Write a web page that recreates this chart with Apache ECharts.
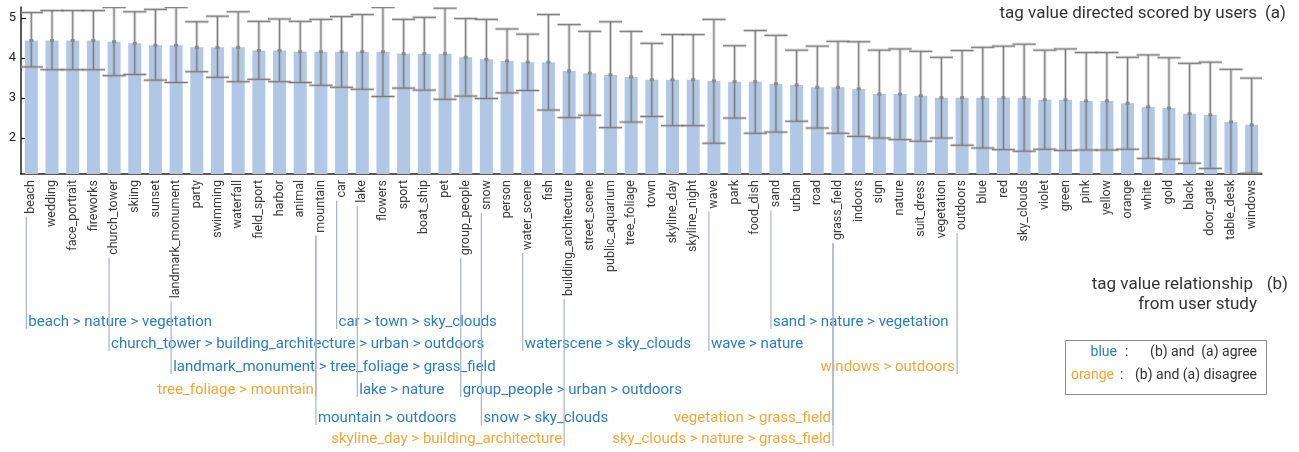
<!DOCTYPE html>
<html>
<head>
<meta charset="utf-8">
<script src="https://cdn.jsdelivr.net/npm/echarts@6/dist/echarts.min.js"></script>
<style>
  html, body { margin: 0; padding: 0; background: #ffffff; }
  #chart { width: 1299px; height: 452px; }
</style>
</head>
<body>
<div id="chart"></div>
<script>
// Image tags, ordered by mean score given by users
const tags = [
  'beach', 'wedding', 'face_portrait', 'fireworks', 'church_tower', 'skiing', 'sunset',
  'landmark_monument', 'party', 'swimming', 'waterfall', 'field_sport', 'harbor', 'animal',
  'mountain', 'car', 'lake', 'flowers', 'sport', 'boat_ship', 'pet', 'group_people', 'snow',
  'person', 'water_scene', 'fish', 'building_architecture', 'street_scene', 'public_aquarium',
  'tree_foliage', 'town', 'skyline_day', 'skyline_night', 'wave', 'park', 'food_dish', 'sand',
  'urban', 'road', 'grass_field', 'indoors', 'sign', 'nature', 'suit_dress', 'vegetation',
  'outdoors', 'blue', 'red', 'sky_clouds', 'violet', 'green', 'pink', 'yellow', 'orange',
  'white', 'gold', 'black', 'door_gate', 'table_desk', 'windows'
];

// Mean score per tag
const meanScore = [
  4.44, 4.44, 4.44, 4.44, 4.41, 4.37, 4.32, 4.32, 4.27, 4.27, 4.27, 4.19, 4.19, 4.16,
  4.16, 4.16, 4.16, 4.16, 4.11, 4.11, 4.11, 4.02, 3.97, 3.93, 3.90, 3.90, 3.68, 3.62, 3.58,
  3.53, 3.46, 3.46, 3.46, 3.43, 3.41, 3.41, 3.36, 3.33, 3.27, 3.27, 3.23, 3.10, 3.10, 3.06,
  3.01, 3.01, 3.01, 3.01, 3.01, 2.96, 2.96, 2.93, 2.93, 2.87, 2.78, 2.75, 2.61, 2.58, 2.40, 2.33
];

// Upper end of each error bar
const upperScore = [
  5.14, 5.19, 5.19, 5.19, 5.27, 5.16, 5.22, 5.27, 4.91, 5.05, 5.16, 4.92, 4.98, 4.92,
  4.97, 5.04, 5.09, 5.27, 4.97, 5.02, 5.25, 4.99, 4.97, 4.73, 4.60, 5.09, 4.84, 4.67, 4.91,
  4.67, 4.37, 4.59, 4.59, 4.97, 4.31, 4.69, 4.57, 4.20, 4.30, 4.42, 4.41, 4.20, 4.23, 4.17,
  4.02, 4.19, 4.27, 4.30, 4.35, 4.20, 4.23, 4.14, 4.14, 4.02, 4.08, 4.01, 3.87, 3.90, 3.72, 3.50
];

// Lower end of each error bar
const lowerScore = [
  3.78, 3.71, 3.71, 3.71, 3.56, 3.59, 3.45, 3.39, 3.66, 3.52, 3.41, 3.47, 3.41, 3.39,
  3.32, 3.27, 3.22, 3.04, 3.25, 3.20, 2.97, 3.05, 2.99, 3.13, 3.19, 2.70, 2.51, 2.57, 2.26,
  2.40, 2.54, 2.31, 2.31, 1.87, 2.50, 2.12, 2.15, 2.42, 2.25, 2.12, 2.04, 2.00, 1.96, 1.92,
  2.00, 1.82, 1.75, 1.71, 1.67, 1.72, 1.69, 1.70, 1.70, 1.72, 1.49, 1.47, 1.37, 1.24, 1.05, 1.12
];

// Score axis tick labels
const yTickValues = [2, 3, 4, 5];

// Tag value relationships from the user study
const relationText = [
  'beach > nature > vegetation',
  'car > town > sky_clouds',
  'sand > nature > vegetation',
  'church_tower > building_architecture > urban > outdoors',
  'waterscene > sky_clouds',
  'wave > nature',
  'landmark_monument > tree_foliage > grass_field',
  'windows > outdoors',
  'tree_foliage > mountain',
  'lake > nature',
  'group_people > urban > outdoors',
  'mountain > outdoors',
  'snow > sky_clouds',
  'vegetation > grass_field',
  'skyline_day > building_architecture',
  'sky_clouds > nature > grass_field'
];
// Tag each relationship hangs from
const relationTag = [
  'beach', 'car', 'sand', 'church_tower', 'water_scene', 'wave', 'landmark_monument',
  'outdoors', 'mountain', 'lake', 'group_people', 'mountain', 'snow', 'grass_field',
  'building_architecture', 'grass_field'
];
// Whether the relationship agrees with the scores
const relationAgree = [
  true, true, true, true, true, true, true, false, false, true, true, true, true, false, false, false
];

// ---- layout ----
const FONT = 'Roboto, "Noto Sans", sans-serif';
const BLUE = '#2a7cc6';
const ORANGE = '#f5a637';
const LEADER = '#aab0cd';
const rowY = [322, 344, 367, 390, 418, 439];
const relationRow = [0, 0, 0, 1, 1, 1, 2, 2, 3, 3, 3, 4, 4, 4, 5, 5];
const relationSide = [
  'left', 'left', 'left', 'left', 'left', 'left', 'left', 'right', 'right', 'left', 'left',
  'left', 'left', 'right', 'right', 'right'
];
const LABEL_FONT_SIZE = 12.5;
const LABEL_MARGIN = 6;
const NOTE_FONT = '15px ' + FONT;
const TITLE_FONT = '17px ' + FONT;
const KEY_FONT = '14px ' + FONT;

const measureCtx = document.createElement('canvas').getContext('2d');
measureCtx.font = LABEL_FONT_SIZE + 'px ' + FONT;
function labelWidth(s) { return measureCtx.measureText(s).width; }

const Y_MIN = 1.1, Y_MAX = 5.28;

const errorData = tags.map((t, i) => [i, lowerScore[i], upperScore[i], meanScore[i]]);
const relationData = relationText.map((t, i) => [tags.indexOf(relationTag[i]), i]);

const chart = echarts.init(document.getElementById('chart'), null, { renderer: 'canvas' });

chart.setOption({
  animation: false,
  backgroundColor: '#ffffff',
  grid: { left: 21, right: 37, top: 7, bottom: 278, containLabel: false, outerBoundsMode: 'none' },
  xAxis: {
    type: 'category',
    data: tags,
    boundaryGap: true,
    axisLine: { show: true, lineStyle: { color: '#222', width: 1.5 } },
    axisTick: { show: false },
    axisLabel: {
      interval: 0, rotate: 90, margin: LABEL_MARGIN,
      color: '#3c3c3c', fontSize: LABEL_FONT_SIZE, fontFamily: FONT
    },
    splitLine: { show: false }
  },
  yAxis: {
    type: 'value',
    min: Y_MIN, max: Y_MAX,
    axisLine: { show: true, lineStyle: { color: '#222', width: 1.5 } },
    axisTick: { show: true, inside: true, length: 5, customValues: yTickValues, lineStyle: { color: '#222', width: 1.2 } },
    axisLabel: { customValues: yTickValues, color: '#222', fontSize: 13, fontFamily: FONT, margin: 5 },
    splitLine: { show: false }
  },
  series: [
    {
      type: 'bar',
      data: meanScore,
      barWidth: 13,
      itemStyle: { color: '#b1c7e6' },
      z: 2
    },
    {
      // error bars
      type: 'custom',
      data: errorData,
      clip: true,
      z: 3,
      encode: { x: 0, y: [1, 2] },
      renderItem: function (params, api) {
        const i = api.value(0);
        const lo = api.coord([i, api.value(1)]);
        const hi = api.coord([i, api.value(2)]);
        const mid = api.coord([i, api.value(3)]);
        const half = api.size([1, 0])[0] * 0.56;
        const halo = { stroke: 'rgba(150,150,150,0.45)', lineWidth: 3 };
        const core = { stroke: '#7a7a7a', lineWidth: 1 };
        const seg = (x1, y1, x2, y2, st) => ({ type: 'line', shape: { x1, y1, x2, y2 }, style: st });
        return {
          type: 'group',
          children: [
            seg(hi[0], hi[1], lo[0], lo[1], halo),
            seg(hi[0] - half, hi[1], hi[0] + half, hi[1], halo),
            seg(lo[0] - half, lo[1], lo[0] + half, lo[1], halo),
            seg(hi[0], hi[1], lo[0], lo[1], core),
            seg(hi[0] - half, hi[1], hi[0] + half, hi[1], core),
            seg(lo[0] - half, lo[1], lo[0] + half, lo[1], core),
            { type: 'rect', shape: { x: mid[0] - 2, y: mid[1] - 1.5, width: 4, height: 3 }, style: { fill: '#8a8a8a' } }
          ]
        };
      }
    },
    {
      // relationship annotations hanging from the tag labels
      type: 'custom',
      data: relationData,
      clip: false,
      silent: true,
      z: 4,
      renderItem: function (params, api) {
        const idx = api.value(0);
        const k = api.value(1);
        const base = api.coord([idx, Y_MIN]);
        const x = base[0] - 5;
        const y0 = base[1] + LABEL_MARGIN + labelWidth(tags[idx]) + 3;
        const ty = rowY[relationRow[k]];
        const left = relationSide[k] === 'left';
        return {
          type: 'group',
          children: [
            { type: 'line', shape: { x1: x, y1: y0, x2: x, y2: ty + 7 }, style: { stroke: LEADER, lineWidth: 1.2 } },
            {
              type: 'text',
              style: {
                text: relationText[k],
                x: left ? x + 2 : x - 2,
                y: ty,
                fill: relationAgree[k] ? BLUE : ORANGE,
                font: NOTE_FONT,
                align: left ? 'left' : 'right',
                verticalAlign: 'middle',
                textAlign: left ? 'left' : 'right',
                textVerticalAlign: 'middle'
              }
            }
          ]
        };
      }
    }
  ],
  graphic: [
    { type: 'text', right: 13, top: 5, style: { text: '(a)', fill: '#333', font: TITLE_FONT } },
    { type: 'text', right: 42, top: 5, style: { text: 'tag value directed scored by users', fill: '#333', font: TITLE_FONT } },
    { type: 'text', right: 11, top: 276, style: { text: '(b)', fill: '#333', font: TITLE_FONT } },
    { type: 'text', right: 46, top: 276, style: { text: 'tag value relationship', fill: '#333', font: TITLE_FONT } },
    { type: 'text', right: 42, top: 296, style: { text: 'from user study', fill: '#333', font: TITLE_FONT } },
    {
      type: 'rect', left: 1063, top: 338,
      shape: { width: 201, height: 54 },
      style: { fill: 'none', stroke: '#8c8c8c', lineWidth: 1 }
    },
    { type: 'text', right: 1299 - 1117, top: 345, style: { text: 'blue', fill: BLUE, font: KEY_FONT } },
    { type: 'text', left: 1125, top: 345, style: { text: ':', fill: '#333', font: KEY_FONT } },
    { type: 'text', right: 1299 - 1257, top: 345, style: { text: '(b) and  (a) agree', fill: '#333', font: KEY_FONT } },
    { type: 'text', right: 1299 - 1114, top: 368, style: { text: 'orange', fill: ORANGE, font: KEY_FONT } },
    { type: 'text', left: 1120, top: 368, style: { text: ':', fill: '#333', font: KEY_FONT } },
    { type: 'text', right: 1299 - 1257, top: 368, style: { text: '(b) and (a) disagree', fill: '#333', font: KEY_FONT } }
  ]
});
</script>
</body>
</html>
